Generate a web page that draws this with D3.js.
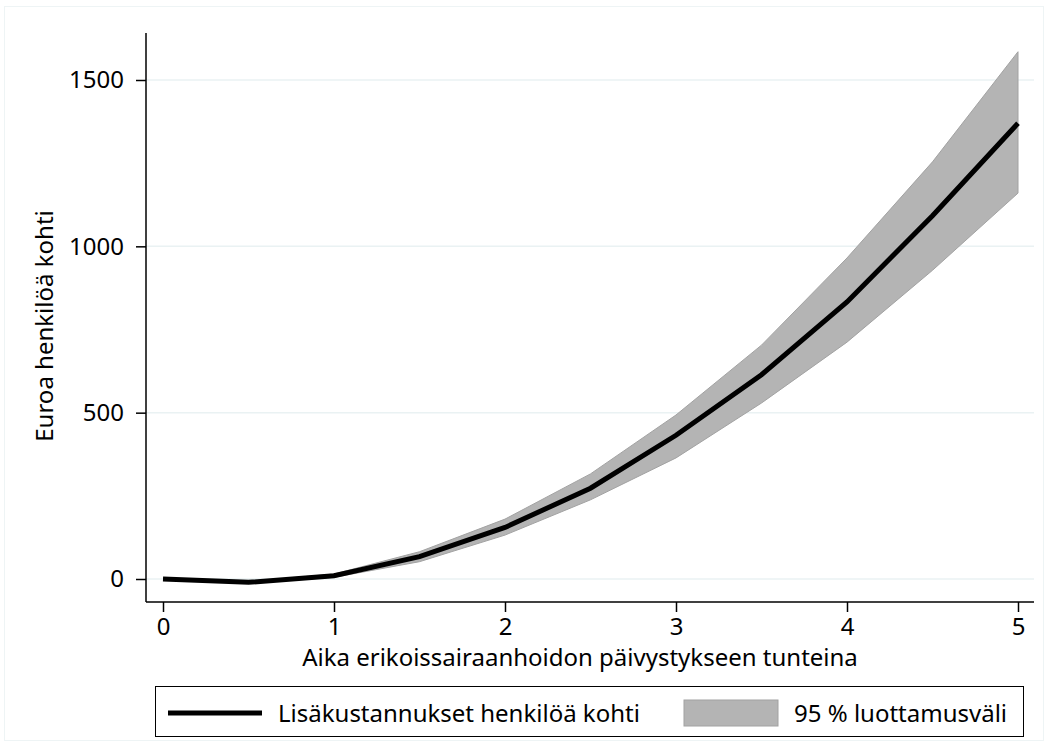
<!DOCTYPE html>
<html>
<head>
<meta charset="utf-8">
<title>Lisäkustannukset</title>
<style>
  body { margin: 0; background: #fff; }
  text { font-family: "Source Sans Pro", "Noto Sans", sans-serif; fill: #000; }
</style>
</head>
<body>
<svg id="chart" width="1048" height="745"></svg>
<script src="https://cdn.jsdelivr.net/npm/d3@7"></script>
<script>
// data
var hours = [0, 0.5, 1, 1.5, 2, 2.5, 3, 3.5, 4, 4.5, 5];
var cost  = [0, -10, 10, 67, 155, 273, 432, 614, 833, 1092, 1370];
var lower = [0, -12, 5, 52, 132, 238, 364, 529, 712, 928, 1160];
var upper = [0, -8, 15, 82, 180, 316, 493, 703, 965, 1254, 1585];
var xTicks = [0, 1, 2, 3, 4, 5];
var yTicks = [0, 500, 1000, 1500];

var svg = d3.select('#chart');

var x = d3.scaleLinear().domain([0, 5]).range([163, 1018]);
var y = d3.scaleLinear().domain([0, 1500]).range([579, 80]);

var axisX = 146, axisY = 602;

// faint outer frame
svg.append('rect')
  .attr('x', 4.5).attr('y', 6.5).attr('width', 1039).attr('height', 734)
  .attr('fill', 'none').attr('stroke', '#eef4f5');

// grid
svg.selectAll('.grid')
  .data(yTicks)
  .enter().append('line')
  .attr('class', 'grid')
  .attr('x1', axisX).attr('x2', 1034)
  .attr('y1', function(d) { return y(d); })
  .attr('y2', function(d) { return y(d); })
  .attr('stroke', '#eaf2f3').attr('stroke-width', 1.5);

var pts = hours.map(function(h, i) {
  return { h: h, c: cost[i], lo: lower[i], hi: upper[i] };
});

// confidence band
svg.append('path')
  .datum(pts)
  .attr('d', d3.area()
    .x(function(d) { return x(d.h); })
    .y0(function(d) { return y(d.lo); })
    .y1(function(d) { return y(d.hi); }))
  .attr('fill', '#b4b4b4')
  .attr('stroke', '#a2a2a2')
  .attr('stroke-width', 1);

// main line
svg.append('path')
  .datum(pts)
  .attr('d', d3.line()
    .x(function(d) { return x(d.h); })
    .y(function(d) { return y(d.c); }))
  .attr('fill', 'none')
  .attr('stroke', '#000')
  .attr('stroke-width', 5);

// axes
var gy = svg.append('g')
  .attr('transform', 'translate(' + axisX + ',0)')
  .call(d3.axisLeft(y).tickValues(yTicks).tickFormat(d3.format('d')).tickSize(10).tickPadding(12));
var gx = svg.append('g')
  .attr('transform', 'translate(0,' + axisY + ')')
  .call(d3.axisBottom(x).tickValues(xTicks).tickFormat(d3.format('d')).tickSize(10).tickPadding(6));

[gy, gx].forEach(function(g) {
  g.select('.domain').remove();
  g.selectAll('line').attr('stroke', '#000').attr('stroke-width', 1.5);
  g.selectAll('text').attr('font-size', 24).attr('font-family', null).attr('fill', '#000');
});

svg.append('line')
  .attr('x1', axisX).attr('x2', axisX).attr('y1', 33).attr('y2', axisY)
  .attr('stroke', '#000').attr('stroke-width', 1.5);
svg.append('line')
  .attr('x1', axisX).attr('x2', 1034).attr('y1', axisY).attr('y2', axisY)
  .attr('stroke', '#000').attr('stroke-width', 1.5);

// axis titles
svg.append('text')
  .attr('x', 580).attr('y', 666)
  .attr('text-anchor', 'middle')
  .attr('font-size', 24)
  .text('Aika erikoissairaanhoidon päivystykseen tunteina');

svg.append('text')
  .attr('transform', 'translate(53,326) rotate(-90)')
  .attr('text-anchor', 'middle')
  .attr('font-size', 24)
  .text('Euroa henkilöä kohti');

// legend
var lg = svg.append('g');
lg.append('rect')
  .attr('x', 155.5).attr('y', 686.5).attr('width', 868).attr('height', 50)
  .attr('fill', '#fff').attr('stroke', '#000').attr('stroke-width', 1);
lg.append('line')
  .attr('x1', 168).attr('x2', 262).attr('y1', 713).attr('y2', 713)
  .attr('stroke', '#000').attr('stroke-width', 5);
lg.append('text')
  .attr('x', 278).attr('y', 722)
  .attr('font-size', 24)
  .text('Lisäkustannukset henkilöä kohti');
lg.append('rect')
  .attr('x', 684).attr('y', 700).attr('width', 94).attr('height', 26)
  .attr('fill', '#b4b4b4').attr('stroke', '#a2a2a2').attr('stroke-width', 1);
lg.append('text')
  .attr('x', 794).attr('y', 722)
  .attr('font-size', 24)
  .text('95 % luottamusväli');
</script>
</body>
</html>
